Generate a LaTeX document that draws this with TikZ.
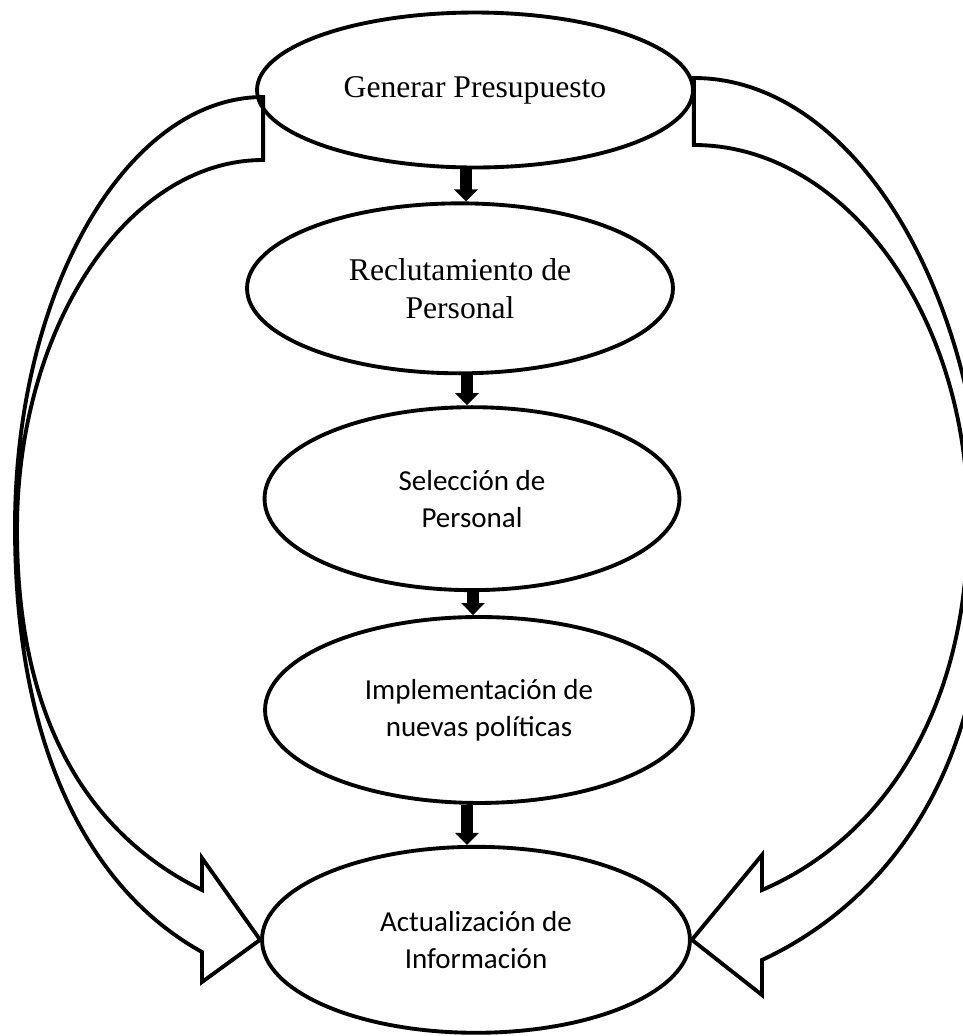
\documentclass[tikz,border=0pt]{standalone}
\usepackage{fontspec}
\setmainfont{Liberation Serif}
\newfontfamily\calibri{Carlito}
\usepackage{tikz}
\usetikzlibrary{shapes.geometric,arrows.meta,positioning,calc}

\begin{document}
\begin{tikzpicture}[
  x=0.02cm, y=-0.02cm,
  stage/.style={ellipse, draw=black, line width=2.2pt, minimum width=8.56cm, minimum height=3.72cm,
                align=center, inner sep=0pt},
  serifstage/.style={stage, font=\fontsize{18}{21.6}\selectfont},
  sansstage/.style={stage, font=\calibri\fontsize{16.5}{21}\selectfont},
  flow/.style={-{Triangle[length=0.24cm, width=0.46cm]}, line width=6.8pt},
  loop/.style={draw=black, line width=2.2pt, line join=miter}
]
\useasboundingbox (0,0) rectangle (963,1036);
\node[serifstage, minimum width=8.72cm, minimum height=3.1cm] (gen) at (475,90) {Generar Presupuesto};
\node[serifstage, minimum width=8.52cm, minimum height=3.4cm, below=0.64cm of gen, xshift=-0.3cm] (rec) {Reclutamiento de\\Personal};
\node[sansstage, minimum width=8.3cm, minimum height=3.66cm, below=0.6cm of rec, xshift=0.24cm] (sel) {Selección de\\Personal};
\node[sansstage, below=0.46cm of sel, xshift=0.14cm] (imp) {Implementación de\\nuevas políticas};
\node[sansstage, below=0.8cm of imp, xshift=-0.06cm] (act) {Actualización de\\Información};
\draw[flow] ($(rec.north |- gen.south)+(6,0)$) -- ($(rec.north)+(6,0)$);
\draw[flow] ($(sel.north |- rec.south)+(-5,0)$) -- ($(sel.north)+(-5,0)$);
\draw[flow] ($(imp.north |- sel.south)+(-6,0)$) -- ($(imp.north)+(-6,0)$);
\draw[flow] ($(act.north |- imp.south)+(-9,0)$) -- ($(act.north)+(-9,0)$);
\draw[loop] ($(gen.west)+(8,7)$) .. controls (127,97) and (15,290) .. (15,527)
  .. controls (15,760) and (97,894) .. (202,952) -- (202,982) -- (act.west) -- (202,858) -- (202,890)
  .. controls (94,837) and (17,728) .. (17,530) .. controls (17,326) and (128,160) .. ($(gen.west)+(8,70)$) -- cycle;
\draw[loop] ($(gen.east)+(-1,-12)$) .. controls (854,78) and (985,294) .. (985,560)
  .. controls (985,780) and (880,905) .. (762,960) -- (762,995) -- (act.east) -- (762,855) -- (762,890)
  .. controls (872,843) and (968,724) .. (968,520) .. controls (968,313) and (844,145) .. ($(gen.east)+(-1,55)$) -- cycle;
\end{tikzpicture}
\end{document}
